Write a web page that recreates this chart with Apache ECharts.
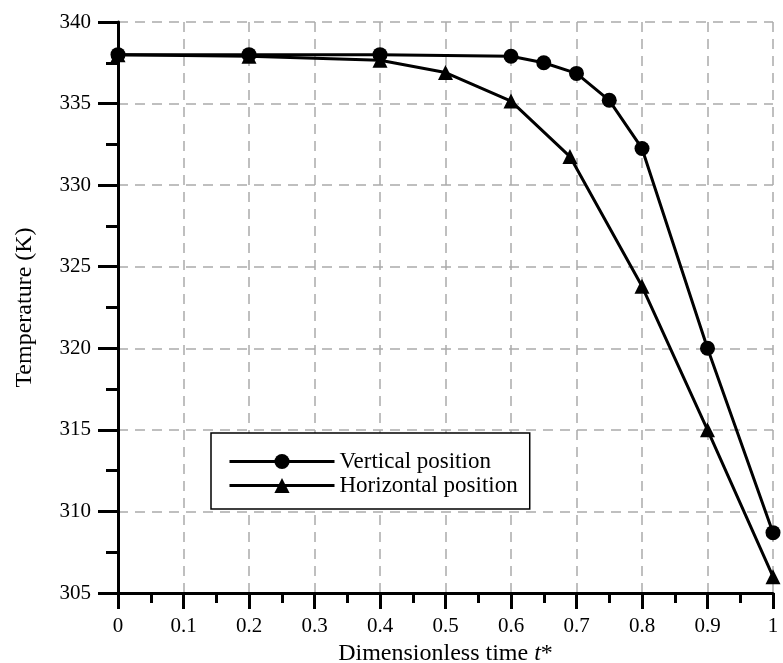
<!DOCTYPE html>
<html>
<head>
<meta charset="utf-8">
<script src="https://cdn.jsdelivr.net/npm/echarts@6/dist/echarts.min.js"></script>
<style>html,body{margin:0;padding:0;background:#fff}#c{width:783px;height:663px}</style>
</head>
<body>
<div id="c"></div>
<script>
const verticalX = [0, 0.2, 0.4, 0.6, 0.65, 0.7, 0.75, 0.8, 0.9, 1.0];
const verticalY = [338.0, 338.0, 338.0, 337.9, 337.5, 336.85, 335.2, 332.25, 320.0, 308.7];
const horizontalX = [0, 0.2, 0.4, 0.5, 0.6, 0.69, 0.8, 0.9, 1.0];
const horizontalY = [338.0, 337.9, 337.65, 336.9, 335.15, 331.75, 323.8, 315.0, 306.0];
const seriesNames = ['Vertical position', 'Horizontal position'];
const xTitle = 'Dimensionless time ';
const yTitle = 'Temperature (K)';

const font = '"Liberation Serif", "Times New Roman", serif';
const pairs = (xs, ys) => xs.map((x, i) => [x, ys[i]]);

const chart = echarts.init(document.getElementById('c'));
chart.setOption({
  backgroundColor: '#fff',
  animation: false,
  grid: { left: 118, right: 10, top: 22, bottom: 70, outerBoundsMode: 'none', containLabel: false },
  legend: {
    orient: 'vertical',
    left: 211, top: 433,
    padding: [17, 12, 12, 17],
    borderColor: '#000', borderWidth: 1.5,
    backgroundColor: '#fff',
    itemWidth: 105, itemHeight: 19, itemGap: 1,
    lineStyle: { width: 3 },
    textStyle: { fontFamily: font, fontSize: 23, color: '#000', lineHeight: 20 },
    data: seriesNames
  },
  xAxis: {
    type: 'value', min: 0, max: 1, interval: 0.1,
    name: xTitle + '{i|t}*',
    nameLocation: 'middle', nameGap: 46,
    nameTextStyle: { fontFamily: font, fontSize: 24, color: '#000',
      rich: { i: { fontFamily: font, fontSize: 24, fontStyle: 'italic', color: '#000' } } },
    axisLine: { show: true, lineStyle: { color: '#000', width: 3 } },
    axisTick: { show: true, length: 16, lineStyle: { color: '#000', width: 3 } },
    minorTick: { show: true, splitNumber: 2, length: 10, lineStyle: { color: '#000', width: 3 } },
    axisLabel: { fontFamily: font, fontSize: 21, color: '#000', margin: 23 },
    splitLine: { show: true, lineStyle: { color: '#aaa', width: 1.5, type: [10, 7] } }
  },
  yAxis: {
    type: 'value', min: 305, max: 340, interval: 5,
    name: yTitle,
    nameLocation: 'middle', nameGap: 81, nameRotate: 90,
    nameTextStyle: { fontFamily: font, fontSize: 24, color: '#000' },
    axisLine: { show: true, lineStyle: { color: '#000', width: 3 } },
    axisTick: { show: true, length: 20, lineStyle: { color: '#000', width: 3 } },
    minorTick: { show: true, splitNumber: 2, length: 12, lineStyle: { color: '#000', width: 3 } },
    axisLabel: { fontFamily: font, fontSize: 21, color: '#000', margin: 27 },
    splitLine: { show: true, lineStyle: { color: '#aaa', width: 1.5, type: [10, 7] } }
  },
  series: [
    {
      name: seriesNames[0], type: 'line',
      data: pairs(verticalX, verticalY),
      symbol: 'circle', symbolSize: 15,
      lineStyle: { color: '#000', width: 3 },
      itemStyle: { color: '#000' },
      z: 3
    },
    {
      name: seriesNames[1], type: 'line',
      data: pairs(horizontalX, horizontalY),
      symbol: 'triangle', symbolSize: 15,
      lineStyle: { color: '#000', width: 3 },
      itemStyle: { color: '#000' },
      z: 2
    }
  ]
});
</script>
</body>
</html>
